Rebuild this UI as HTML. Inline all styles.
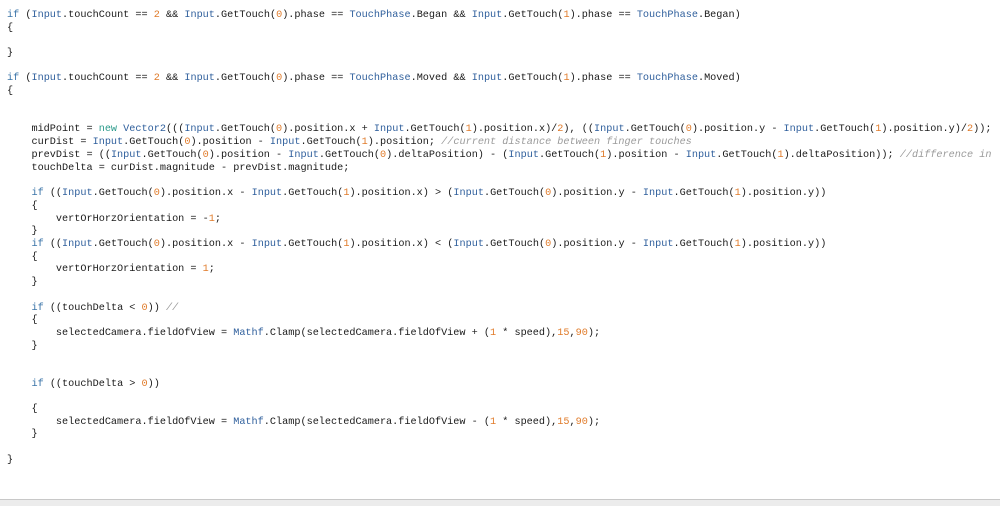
<!DOCTYPE html>
<html><head><meta charset="utf-8"><style>
body{margin:0;width:1000px;height:505px;background:#fff;overflow:hidden;position:relative}
.w{position:absolute;left:0;top:2px;width:1000px;height:497px;overflow:hidden}
.l{position:absolute;left:7px;font-family:"Liberation Mono",monospace;font-size:10.2px;white-space:pre;color:#1a1a1a;line-height:12px}
.k{color:#3a74a8}.t{color:#2f5f9c}.n{color:#e07b2a}.c{color:#9a9a9a;font-style:italic}.g{color:#2a9a8a}
.bar{position:absolute;left:0;top:499px;width:1000px;height:6px;background:#ececec;border-top:1px solid #c8c8c8}
</style></head><body>
<div class="w">
<div class="l" style="top:8px"><span class="k">if</span> (<span class="t">Input</span>.touchCount == <span class="n">2</span> &amp;&amp; <span class="t">Input</span>.GetTouch(<span class="n">0</span>).phase == <span class="t">TouchPhase</span>.Began &amp;&amp; <span class="t">Input</span>.GetTouch(<span class="n">1</span>).phase == <span class="t">TouchPhase</span>.Began)</div>
<div class="l" style="top:21px">{</div>
<div class="l" style="top:46px">}</div>
<div class="l" style="top:71px"><span class="k">if</span> (<span class="t">Input</span>.touchCount == <span class="n">2</span> &amp;&amp; <span class="t">Input</span>.GetTouch(<span class="n">0</span>).phase == <span class="t">TouchPhase</span>.Moved &amp;&amp; <span class="t">Input</span>.GetTouch(<span class="n">1</span>).phase == <span class="t">TouchPhase</span>.Moved)</div>
<div class="l" style="top:84px">{</div>
<div class="l" style="top:122px">    midPoint = <span class="g">new</span> <span class="t">Vector2</span>(((<span class="t">Input</span>.GetTouch(<span class="n">0</span>).position.x + <span class="t">Input</span>.GetTouch(<span class="n">1</span>).position.x)/<span class="n">2</span>), ((<span class="t">Input</span>.GetTouch(<span class="n">0</span>).position.y - <span class="t">Input</span>.GetTouch(<span class="n">1</span>).position.y)/<span class="n">2</span>));</div>
<div class="l" style="top:135px">    curDist = <span class="t">Input</span>.GetTouch(<span class="n">0</span>).position - <span class="t">Input</span>.GetTouch(<span class="n">1</span>).position; <span class="c">//current distance between finger touches</span></div>
<div class="l" style="top:148px">    prevDist = ((<span class="t">Input</span>.GetTouch(<span class="n">0</span>).position - <span class="t">Input</span>.GetTouch(<span class="n">0</span>).deltaPosition) - (<span class="t">Input</span>.GetTouch(<span class="n">1</span>).position - <span class="t">Input</span>.GetTouch(<span class="n">1</span>).deltaPosition)); <span class="c">//difference in</span></div>
<div class="l" style="top:161px">    touchDelta = curDist.magnitude - prevDist.magnitude;</div>
<div class="l" style="top:186px">    <span class="k">if</span> ((<span class="t">Input</span>.GetTouch(<span class="n">0</span>).position.x - <span class="t">Input</span>.GetTouch(<span class="n">1</span>).position.x) &gt; (<span class="t">Input</span>.GetTouch(<span class="n">0</span>).position.y - <span class="t">Input</span>.GetTouch(<span class="n">1</span>).position.y))</div>
<div class="l" style="top:199px">    {</div>
<div class="l" style="top:212px">        vertOrHorzOrientation = -<span class="n">1</span>;</div>
<div class="l" style="top:224px">    }</div>
<div class="l" style="top:237px">    <span class="k">if</span> ((<span class="t">Input</span>.GetTouch(<span class="n">0</span>).position.x - <span class="t">Input</span>.GetTouch(<span class="n">1</span>).position.x) &lt; (<span class="t">Input</span>.GetTouch(<span class="n">0</span>).position.y - <span class="t">Input</span>.GetTouch(<span class="n">1</span>).position.y))</div>
<div class="l" style="top:250px">    {</div>
<div class="l" style="top:262px">        vertOrHorzOrientation = <span class="n">1</span>;</div>
<div class="l" style="top:275px">    }</div>
<div class="l" style="top:301px">    <span class="k">if</span> ((touchDelta &lt; <span class="n">0</span>)) <span class="c">//</span></div>
<div class="l" style="top:313px">    {</div>
<div class="l" style="top:326px">        selectedCamera.fieldOfView = <span class="t">Mathf</span>.Clamp(selectedCamera.fieldOfView + (<span class="n">1</span> * speed),<span class="n">15</span>,<span class="n">90</span>);</div>
<div class="l" style="top:339px">    }</div>
<div class="l" style="top:377px">    <span class="k">if</span> ((touchDelta &gt; <span class="n">0</span>))</div>
<div class="l" style="top:402px">    {</div>
<div class="l" style="top:415px">        selectedCamera.fieldOfView = <span class="t">Mathf</span>.Clamp(selectedCamera.fieldOfView - (<span class="n">1</span> * speed),<span class="n">15</span>,<span class="n">90</span>);</div>
<div class="l" style="top:427px">    }</div>
<div class="l" style="top:453px">}</div>
</div>
<div class="bar"></div>
</body></html>
